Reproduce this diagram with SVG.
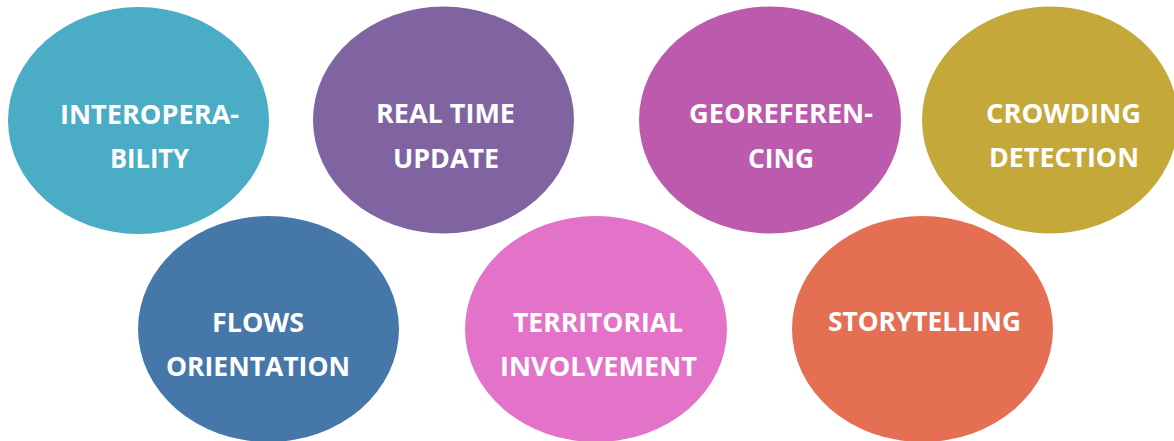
<svg xmlns="http://www.w3.org/2000/svg" width="1174" height="441" viewBox="0 0 1174 441">
<style>
text{font-family:"Open Sans","Noto Sans",sans-serif;font-weight:bold;font-size:27px;fill:#fff;text-anchor:middle}
</style>
<rect width="1174" height="441" fill="#fff"/>
<g id="interoperability"><ellipse cx="138.5" cy="120.5" rx="130.5" ry="113.5" fill="#4BACC6"/>
<text x="149.5" y="124" textLength="179" lengthAdjust="spacingAndGlyphs">INTEROPERA-</text>
<text x="149.5" y="168" textLength="79" lengthAdjust="spacingAndGlyphs">BILITY</text></g>
<g id="realtime"><ellipse cx="443.5" cy="120" rx="130.5" ry="113.5" fill="#8064A2"/>
<text x="445.5" y="123" textLength="139" lengthAdjust="spacingAndGlyphs">REAL TIME</text>
<text x="446" y="168" textLength="106" lengthAdjust="spacingAndGlyphs">UPDATE</text></g>
<g id="georeferencing"><ellipse cx="770" cy="120" rx="131" ry="113.5" fill="#BC5AAD"/>
<text x="781" y="123" textLength="184" lengthAdjust="spacingAndGlyphs">GEOREFEREN-</text>
<text x="781" y="168" textLength="66" lengthAdjust="spacingAndGlyphs">CING</text></g>
<g id="crowding"><ellipse cx="1050" cy="120" rx="128" ry="113.5" fill="#C5A83A"/>
<text x="1063.5" y="123" textLength="155" lengthAdjust="spacingAndGlyphs">CROWDING</text>
<text x="1064" y="167" textLength="150" lengthAdjust="spacingAndGlyphs">DETECTION</text></g>
<g id="flows"><ellipse cx="268.5" cy="329" rx="130.5" ry="113" fill="#4577A8"/>
<text x="258" y="332" textLength="92" lengthAdjust="spacingAndGlyphs">FLOWS</text>
<text x="258" y="376" textLength="184" lengthAdjust="spacingAndGlyphs">ORIENTATION</text></g>
<g id="territorial"><ellipse cx="596" cy="329" rx="131" ry="113" fill="#E372C9"/>
<text x="598" y="332" textLength="170" lengthAdjust="spacingAndGlyphs">TERRITORIAL</text>
<text x="598.5" y="376" textLength="197" lengthAdjust="spacingAndGlyphs">INVOLVEMENT</text></g>
<g id="storytelling"><ellipse cx="922.5" cy="329" rx="130.5" ry="113" fill="#E46F53"/>
<text x="924.5" y="331" textLength="193" lengthAdjust="spacingAndGlyphs">STORYTELLING</text></g>
<g id="connectors"></g>
</svg>
